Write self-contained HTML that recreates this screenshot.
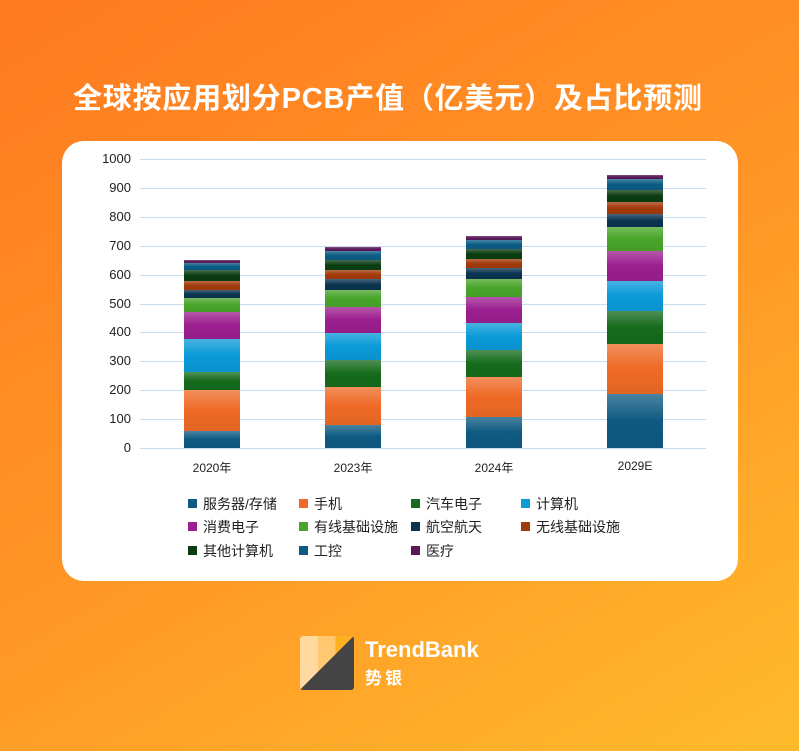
<!DOCTYPE html>
<html><head><meta charset="utf-8"><style>
*{margin:0;padding:0;box-sizing:border-box}
body{width:799px;height:751px;overflow:hidden;font-family:"Liberation Sans","Noto Sans CJK SC",sans-serif;background:linear-gradient(150deg,#ff7a20 0%,#ff9526 50%,#ffbb2c 100%);position:relative}
.title{position:absolute;left:73px;top:75px;color:#fff;font-size:29px;letter-spacing:0.8px;font-weight:bold;white-space:nowrap;font-family:"Liberation Sans","Noto Sans CJK SC",sans-serif}
.card{position:absolute;left:62px;top:141px;width:676px;height:440px;background:#fff;border-radius:22px}
.g{position:absolute;left:140px;width:566px;height:1px;background:#c9dcef}
.yl{position:absolute;width:40px;text-align:right;left:91px;font-size:13px;color:#222}
.seg{position:absolute;width:56px}
.xl{position:absolute;top:459px;font-size:12px;color:#222;width:80px;text-align:center}
.lg{position:absolute;font-size:14px;color:#222;white-space:nowrap}
.lg i{display:inline-block;width:9px;height:9px;margin-right:6px;vertical-align:1px}
</style></head><body>
<div class="title">全球按应用划分PCB产值（亿美元）及占比预测</div>
<div class="card"></div>
<div id="c"></div>
<div class="xl" style="left:172px">2020年</div>
<div class="xl" style="left:313px">2023年</div>
<div class="xl" style="left:454px">2024年</div>
<div class="xl" style="left:595px">2029E</div>
<div class="lg" style="left:188px;top:494px"><i style="background:#0e5a82"></i>服务器/存储</div>
<div class="lg" style="left:299px;top:494px"><i style="background:#ee6a25"></i>手机</div>
<div class="lg" style="left:411px;top:494px"><i style="background:#156b1c"></i>汽车电子</div>
<div class="lg" style="left:521px;top:494px"><i style="background:#0a9ad8"></i>计算机</div>
<div class="lg" style="left:188px;top:517px"><i style="background:#9b1f8e"></i>消费电子</div>
<div class="lg" style="left:299px;top:517px"><i style="background:#48a52a"></i>有线基础设施</div>
<div class="lg" style="left:411px;top:517px"><i style="background:#0b3450"></i>航空航天</div>
<div class="lg" style="left:521px;top:517px"><i style="background:#a23b0c"></i>无线基础设施</div>
<div class="lg" style="left:188px;top:541px"><i style="background:#0a3d12"></i>其他计算机</div>
<div class="lg" style="left:299px;top:541px"><i style="background:#0b5c84"></i>工控</div>
<div class="lg" style="left:411px;top:541px"><i style="background:#5a1a5a"></i>医疗</div>
<div style="position:absolute;left:300px;top:636px;width:54px;height:54px;border-radius:3px;overflow:hidden;background:linear-gradient(90deg,#ffd9a0 0 33%,#ffc870 33% 66%,#ffb020 66%)">
<div style="position:absolute;inset:0;background:linear-gradient(135deg,transparent 50%,#444 50%)"></div></div>
<div style="position:absolute;left:365px;top:637px;color:#fff;font-size:22px;font-weight:bold">TrendBank</div>
<div style="position:absolute;left:365px;top:664px;color:#fff;font-size:17px;font-weight:bold;letter-spacing:3px">势银</div>
<script>
var c=document.getElementById('c'),h='';
for(var i=0;i<=10;i++){var y=448-i*28.9;h+='<div class="g" style="top:'+Math.round(y)+'px"></div><div class="yl" style="top:'+Math.round(y-8)+'px">'+(i*100)+'</div>';}
var cols=['#0e5a82','#ee6a25','#156b1c','#0a9ad8','#9b1f8e','#48a52a','#0b3450','#a23b0c','#0a3d12','#0b5c84','#5a1a5a'];
var bars=[[184,[448,431,390,372,339,312,298,290,281,270,263,260]],
[325,[448,425,387,360,333,307,290,279,270,260,251,247]],
[466,[448,417,377,350,323,297,279,268,259,249,240,236]],
[607,[448,394,344,311,281,251,227,214,202,190,179,175]]];
bars.forEach(function(b){for(var k=0;k<11;k++){var t=b[1][k+1],bt=b[1][k];
h+='<div class="seg" style="left:'+b[0]+'px;top:'+t+'px;height:'+(bt-t)+'px;background:linear-gradient(180deg,rgba(255,255,255,.25),rgba(255,255,255,0) 50%,rgba(0,0,0,.05)),'+cols[k]+'"></div>';}});
c.innerHTML=h;
</script>
</body></html>
